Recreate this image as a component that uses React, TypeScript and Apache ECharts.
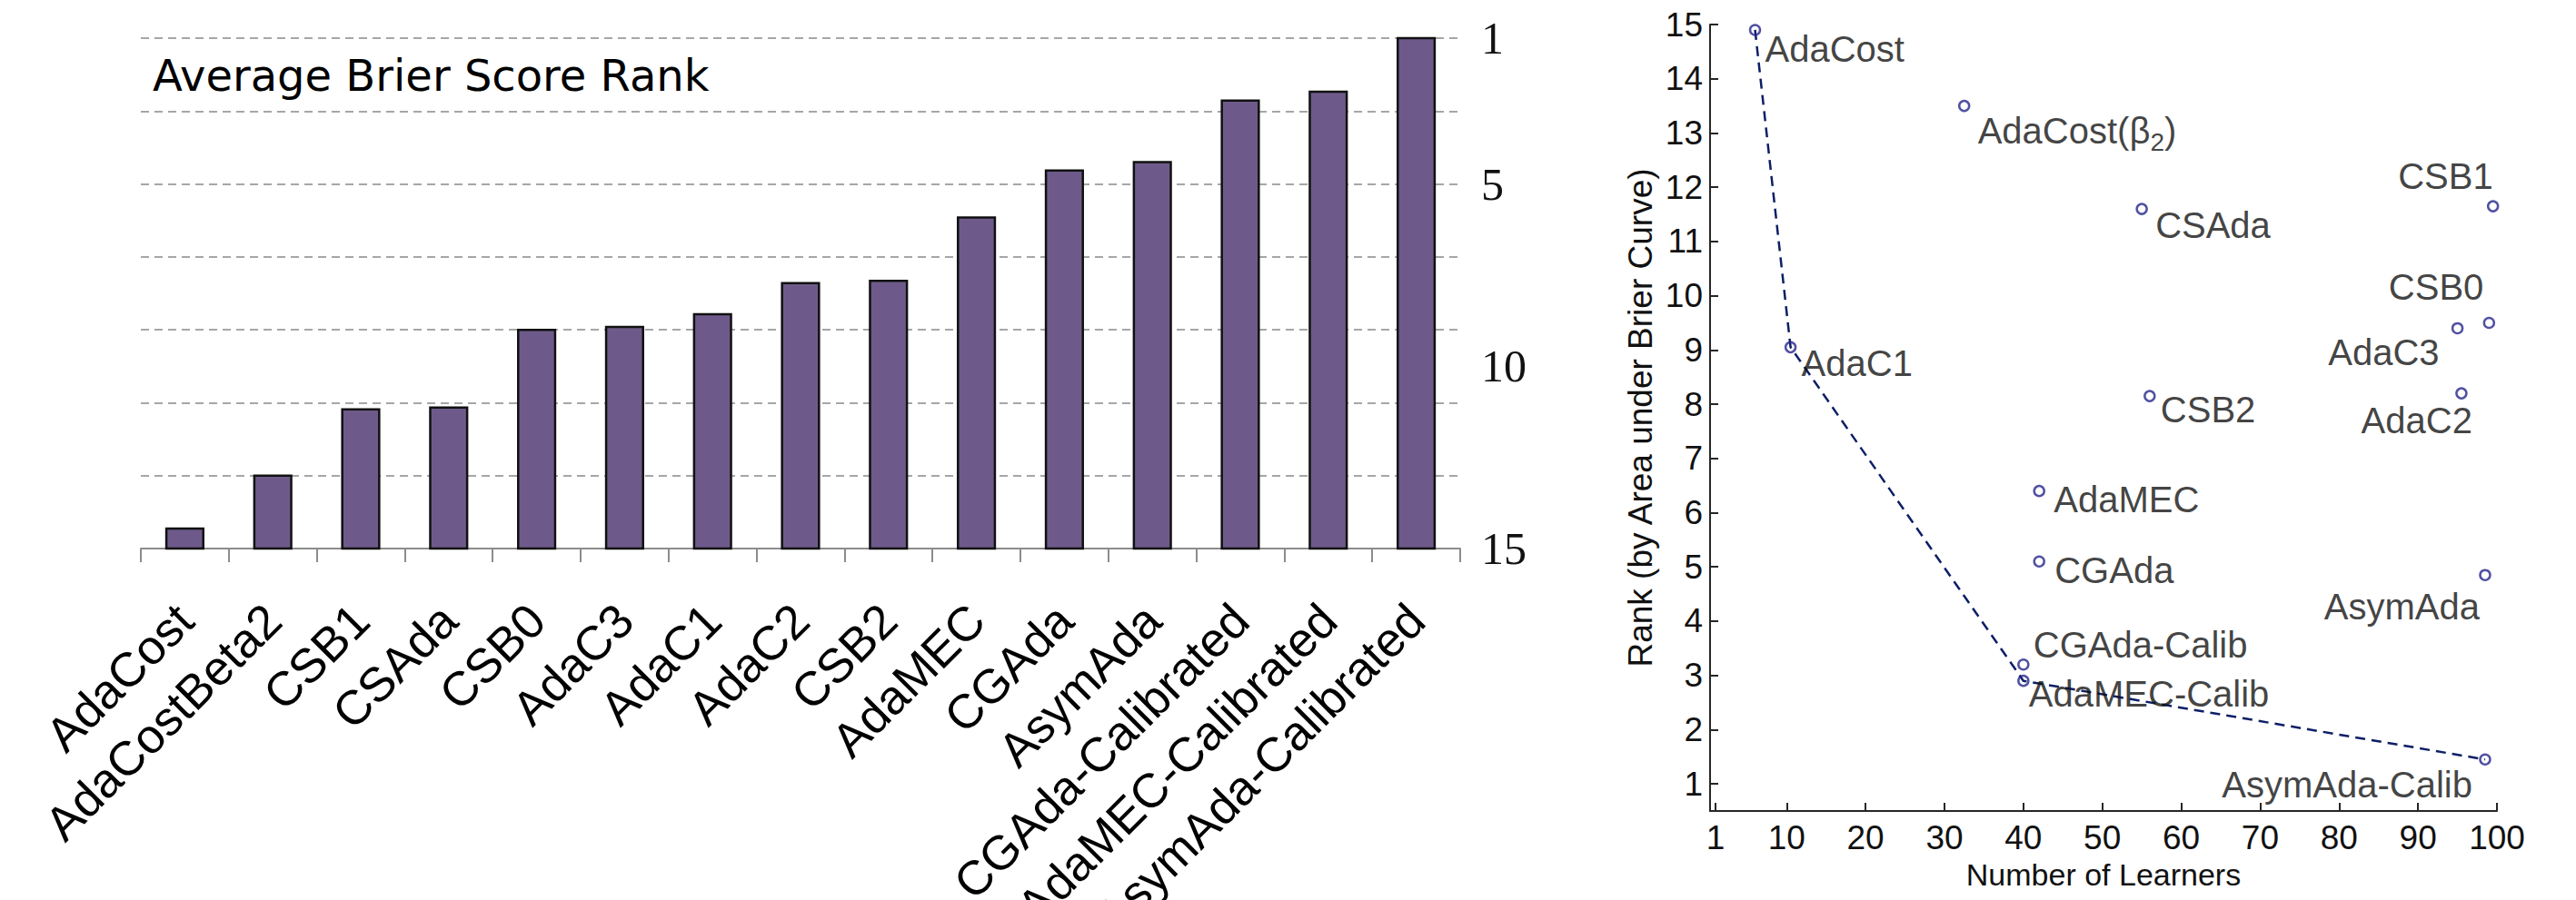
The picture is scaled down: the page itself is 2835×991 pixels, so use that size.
import React, { useEffect, useRef } from "react";
import * as echarts from "echarts";

// Left panel: average Brier score rank per method (1 = best)
const methods = [
  "AdaCost",
  "AdaCostBeta2",
  "CSB1",
  "CSAda",
  "CSB0",
  "AdaC3",
  "AdaC1",
  "AdaC2",
  "CSB2",
  "AdaMEC",
  "CGAda",
  "AsymAda",
  "CGAda-Calibrated",
  "AdaMEC-Calibrated",
  "AsymAda-Calibrated",
];
const avgBrierRank = [14.45, 13.0, 11.18, 11.13, 9.0, 8.92, 8.57, 7.72, 7.66, 5.92, 4.63, 4.4, 2.71, 2.47, 1.0];
const rankBest = 1;
const rankWorst = 15;
const rankLabelTicks = [1, 5, 10, 15];

// Right panel: rank by area under Brier curve vs. number of learners
const learnerNames = [
  "AdaCost",
  "AdaCost(β_2)",
  "CSAda",
  "CSB1",
  "CSB0",
  "AdaC3",
  "AdaC1",
  "CSB2",
  "AdaC2",
  "AdaMEC",
  "CGAda",
  "AsymAda",
  "CGAda-Calib",
  "AdaMEC-Calib",
  "AsymAda-Calib",
];
const numLearners = [6, 32.5, 55, 99.5, 99, 95, 10.5, 56, 95.5, 42, 42, 98.5, 40, 40, 98.5];
const areaRank = [14.9, 13.5, 11.6, 11.65, 9.5, 9.4, 9.05, 8.15, 8.2, 6.4, 5.1, 4.85, 3.2, 2.9, 1.45];
const frontierNames = ["AdaCost", "AdaC1", "AdaMEC-Calib", "AsymAda-Calib"];
const learnerTicks = [1, 10, 20, 30, 40, 50, 60, 70, 80, 90, 100];
const areaRankTicks = [1, 2, 3, 4, 5, 6, 7, 8, 9, 10, 11, 12, 13, 14, 15];

// Text placement of each point annotation (pixel offset from the marker)
const annotationStyle: Record<string, { align: "left" | "right"; dx: number; dy: number }> = {
  AdaCost: { align: "left", dx: 11, dy: 21 },
  "AdaCost(β_2)": { align: "left", dx: 15, dy: 27 },
  CSAda: { align: "left", dx: 15, dy: 18 },
  CSB1: { align: "right", dx: 0, dy: -33 },
  CSB0: { align: "right", dx: -6, dy: -39 },
  AdaC3: { align: "right", dx: -20, dy: 27 },
  AdaC1: { align: "left", dx: 12, dy: 18 },
  CSB2: { align: "left", dx: 12, dy: 15 },
  AdaC2: { align: "right", dx: 12, dy: 30 },
  AdaMEC: { align: "left", dx: 16, dy: 9 },
  CGAda: { align: "left", dx: 17, dy: 10 },
  AsymAda: { align: "right", dx: -6, dy: 35 },
  "CGAda-Calib": { align: "left", dx: 11, dy: -22 },
  "AdaMEC-Calib": { align: "left", dx: 6, dy: 14 },
  "AsymAda-Calib": { align: "right", dx: -14, dy: 28 },
};

const SANS = '"Liberation Sans", Arial, Helvetica, sans-serif';
const SERIF = '"Liberation Serif", "Times New Roman", serif';

// TeX-like "name_2)" -> rich text with a subscript
function annotationText(name: string): string {
  const i = name.indexOf("_");
  if (i < 0) return "{a|" + name + "}";
  return "{a|" + name.slice(0, i) + "}{s|" + name.charAt(i + 1) + "}{a|" + name.slice(i + 2) + "}";
}

export default function App() {
  const ref = useRef<HTMLDivElement>(null);

  useEffect(() => {
    if (!ref.current) return;
    const chart = echarts.init(ref.current, undefined, { renderer: "svg" });

    const pointOf = (name: string) => {
      const k = learnerNames.indexOf(name);
      return [numLearners[k], areaRank[k]];
    };

    const scatterData = learnerNames.map((name, k) => {
      const s = annotationStyle[name];
      return {
        name,
        value: [numLearners[k], areaRank[k]],
        label: {
          show: true,
          position: "inside",
          align: s.align,
          verticalAlign: "middle",
          offset: [s.dx, s.dy],
          formatter: annotationText(name),
        },
      };
    });

    const option: any = {
      animation: false,
      backgroundColor: "#ffffff",
      graphic: [
        {
          type: "text",
          x: 168,
          y: 83,
          style: {
            text: "Average Brier Score Rank",
            font: '48px "DejaVu Sans"',
            fill: "#000000",
            textVerticalAlign: "middle",
          },
        },
      ],
      grid: [
        { left: 155, top: 42, width: 1452, height: 562, outerBoundsMode: "none", containLabel: false },
        { left: 1882, top: 27, width: 866, height: 866, outerBoundsMode: "none", containLabel: false },
      ],
      xAxis: [
        {
          type: "category",
          gridIndex: 0,
          data: methods,
          axisLine: { lineStyle: { color: "#8c8c8c", width: 2 } },
          axisTick: { show: true, length: 15, interval: 0, lineStyle: { color: "#8c8c8c", width: 2 } },
          axisLabel: {
            interval: 0,
            rotate: 45,
            margin: 70,
            align: "right",
            verticalAlign: "middle",
            fontSize: 53,
            fontFamily: SANS,
            color: "#000000",
            hideOverlap: false,
          },
          splitLine: { show: false },
        },
        {
          type: "value",
          gridIndex: 1,
          min: 0.3,
          max: 100,
          name: "Number of Learners",
          nameLocation: "middle",
          nameGap: 52,
          nameTextStyle: { fontSize: 34, fontFamily: SANS, color: "#111111" },
          axisLine: { lineStyle: { color: "#262626", width: 2 } },
          axisTick: { inside: true, length: 9, customValues: learnerTicks, lineStyle: { color: "#262626", width: 2 } },
          axisLabel: { customValues: learnerTicks, margin: 11, fontSize: 37, fontFamily: SANS, color: "#111111" },
          splitLine: { show: false },
        },
      ],
      yAxis: [
        {
          type: "value",
          gridIndex: 0,
          position: "right",
          inverse: true,
          min: rankBest,
          max: rankWorst,
          interval: 2,
          axisLine: { show: false },
          axisTick: { show: false },
          axisLabel: {
            customValues: rankLabelTicks,
            margin: 23,
            fontSize: 50,
            fontFamily: SERIF,
            color: "#111111",
          },
          splitLine: { show: true, lineStyle: { color: "#a6a6a6", width: 2, type: [9, 6] } },
        },
        {
          type: "value",
          gridIndex: 1,
          min: 0.5,
          max: 15,
          name: "Rank (by Area under Brier Curve)",
          nameLocation: "middle",
          nameGap: 58,
          nameTextStyle: { fontSize: 37, fontFamily: SANS, color: "#111111" },
          axisLine: { show: true, lineStyle: { color: "#262626", width: 2 } },
          axisTick: { show: true, inside: true, length: 9, customValues: areaRankTicks, lineStyle: { color: "#262626", width: 2 } },
          axisLabel: { customValues: areaRankTicks, margin: 8, fontSize: 37, fontFamily: SANS, color: "#111111" },
          splitLine: { show: false },
        },
      ],
      series: [
        {
          type: "custom",
          xAxisIndex: 0,
          yAxisIndex: 0,
          data: avgBrierRank.map((v, i) => [i, v]),
          renderItem: (params: any, api: any) => {
            const i = api.value(0);
            const v = api.value(1);
            const top = api.coord([i, v]);
            const base = api.coord([i, rankWorst]);
            const bw = api.size([1, 0])[0] * 0.42;
            return {
              type: "rect",
              shape: { x: top[0] - bw / 2, y: top[1], width: bw, height: base[1] - top[1] },
              style: { fill: "#6e5a8a", stroke: "#111111", lineWidth: 2.5 },
            };
          },
        },
        {
          type: "line",
          xAxisIndex: 1,
          yAxisIndex: 1,
          data: frontierNames.map(pointOf),
          symbol: "none",
          lineStyle: { color: "#0d1f66", width: 2.5, type: [11, 7] },
          z: 2,
        },
        {
          type: "scatter",
          xAxisIndex: 1,
          yAxisIndex: 1,
          data: scatterData,
          symbol: "circle",
          symbolSize: 11,
          itemStyle: { color: "rgba(255,255,255,0)", borderColor: "#26268c", borderWidth: 2.5 },
          label: {
            show: true,
            color: "#111111",
            fontSize: 40,
            fontFamily: SANS,
            rich: {
              a: { fontSize: 40, fontFamily: SANS, color: "#111111", lineHeight: 54, verticalAlign: "middle" },
              s: { fontSize: 28, fontFamily: SANS, color: "#111111", lineHeight: 10, verticalAlign: "bottom" },
            },
          },
          emphasis: { disabled: true },
          z: 3,
        },
      ],
    };

    chart.setOption(option);
    return () => chart.dispose();
  }, []);

  return (
    <div
      ref={ref}
      style={{ position: "fixed", left: 0, top: 0, width: 2835, height: 991, background: "#ffffff" }}
    />
  );
}
